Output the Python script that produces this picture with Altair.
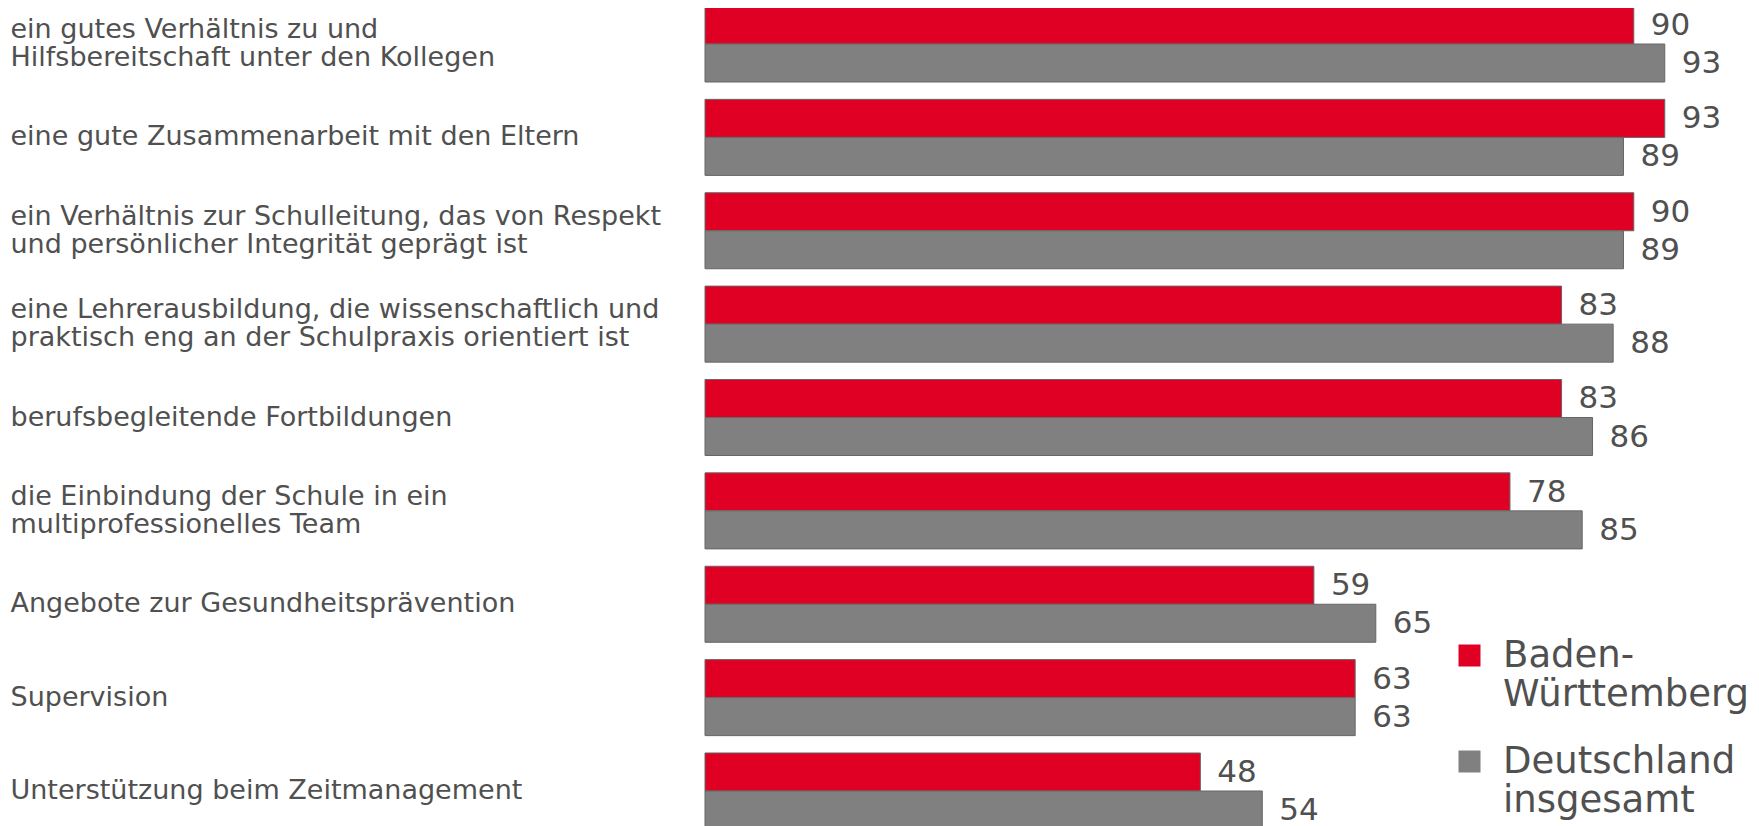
import altair as alt
import pandas as pd

categories = [
    "ein gutes Verhältnis zu und\nHilfsbereitschaft unter den Kollegen",
    "eine gute Zusammenarbeit mit den Eltern",
    "ein Verhältnis zur Schulleitung, das von Respekt\nund persönlicher Integrität geprägt ist",
    "eine Lehrerausbildung, die wissenschaftlich und\npraktisch eng an der Schulpraxis orientiert ist",
    "berufsbegleitende Fortbildungen",
    "die Einbindung der Schule in ein\nmultiprofessionelles Team",
    "Angebote zur Gesundheitsprävention",
    "Supervision",
    "Unterstützung beim Zeitmanagement",
]
baden_wuerttemberg = [90, 93, 90, 83, 83, 78, 59, 63, 48]
deutschland = [93, 89, 89, 88, 86, 85, 65, 63, 54]
series = ["Baden-\nWürttemberg", "Deutschland\ninsgesamt"]
colors = ["#E00023", "#808080"]

rows = []
for cat, a, b in zip(categories, baden_wuerttemberg, deutschland):
    rows.append({"Kategorie": cat, "Serie": series[0], "Wert": a})
    rows.append({"Kategorie": cat, "Serie": series[1], "Wert": b})
df = pd.DataFrame(rows)

FONT = "DejaVu Sans"
TXT = "#505050"

base = alt.Chart(df).encode(
    y=alt.Y(
        "Kategorie:N",
        sort=categories,
        scale=alt.Scale(paddingInner=0.186, paddingOuter=0),
        axis=alt.Axis(
            title=None,
            labelExpr="split(datum.label, '\\n')",
            labelAlign="left",
            labelBaseline={
                "condition": {"test": "indexof(datum.value, '\\n') >= 0",
                              "value": "line-bottom"},
                "value": "middle",
            },
            labelPadding=695,
            labelLimit=0,
            labelFontSize=27,
            labelFont=FONT,
            labelColor=TXT,
            labelLineHeight=28,
            ticks=False,
            tickSize=0,
            domain=False,
            grid=False,
        ),
    ),
    yOffset=alt.YOffset("Serie:N", sort=series,
                        scale=alt.Scale(paddingInner=0, paddingOuter=0)),
    x=alt.X("Wert:Q", scale=alt.Scale(domain=[0, 100]), axis=None),
)

bars = base.mark_bar(stroke="#666666", strokeWidth=1).encode(
    color=alt.Color(
        "Serie:N",
        scale=alt.Scale(domain=series, range=colors),
        legend=alt.Legend(
            title=None,
            orient="none",
            legendX=746,
            legendY=631,
            labelExpr="split(datum.label, '\\n')",
            labelFontSize=37,
            labelFont=FONT,
            labelColor=TXT,
            labelLimit=0,
            labelBaseline="middle",
            labelOffset=15,
            symbolType="square",
            symbolSize=484,
            symbolStrokeWidth=0,
            rowPadding=29,
        ),
    )
)

labels = base.mark_text(
    align="left", baseline="middle", dx=17, dy=1,
    fontSize=31, font=FONT, color=TXT,
).encode(text="Wert:Q")

chart = (
    alt.layer(bars, labels)
    .properties(
        width=1032,
        height=823,
        autosize=alt.AutoSizeParams(type="none"),
        padding={"left": 697, "right": 14, "top": -2, "bottom": 0},
    )
    .configure_view(stroke=None)
)

chart.save("out.html", embed_options={"renderer": "svg", "actions": False})
